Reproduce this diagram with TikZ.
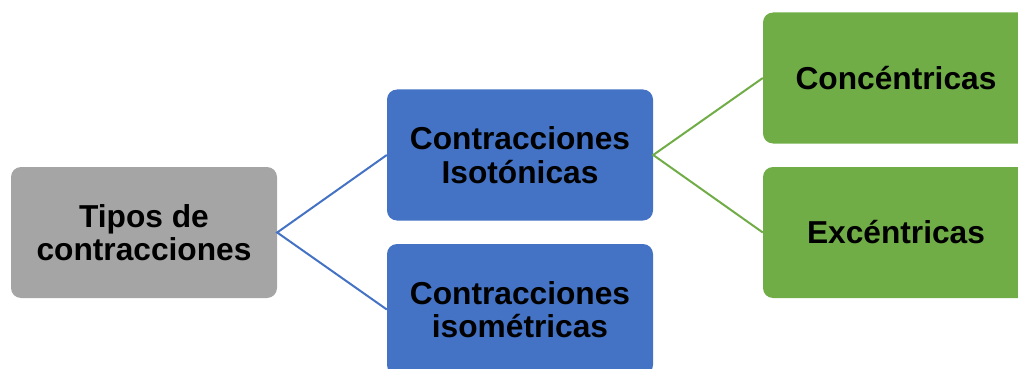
\documentclass[tikz,border=0pt]{standalone}
\usepackage{fontspec}
\setmainfont{Liberation Sans}
\definecolor{boxgray}{HTML}{A5A5A5}
\definecolor{boxblue}{HTML}{4472C4}
\definecolor{boxgreen}{HTML}{70AD47}
\tikzset{
  smbox/.style={rounded corners=10pt, minimum width=266pt, minimum height=131pt, inner sep=0pt,
    align=center, text=black, font=\fontsize{31.7}{33.5}\selectfont\bfseries},
  graybox/.style={smbox, fill=boxgray},
  bluebox/.style={smbox, fill=boxblue},
  greenbox/.style={smbox, fill=boxgreen},
  bluelink/.style={draw=boxblue, line width=2pt},
  greenlink/.style={draw=boxgreen, line width=2pt}
}
\begin{document}
\begin{tikzpicture}[x=1pt,y=-1pt]
\useasboundingbox (0,0) rectangle (1018,369);
\clip (0,0) rectangle (1018,369);
\node[graybox] (root) at (144,232.5) {Tipos de\\contracciones};
\node[bluebox] (iso) at (520,155) {Contracciones\\Isotónicas};
\node[bluebox] (isom) at (520,309.5) {Contracciones\\isométricas};
\node[greenbox] (conc) at (896,78) {Concéntricas};
\node[greenbox] (exc) at (896,232.5) {Excéntricas};
\draw[bluelink] (iso.west) -- (root.east) -- (isom.west);
\draw[greenlink] (conc.west) -- (iso.east) -- (exc.west);
\end{tikzpicture}
\end{document}
